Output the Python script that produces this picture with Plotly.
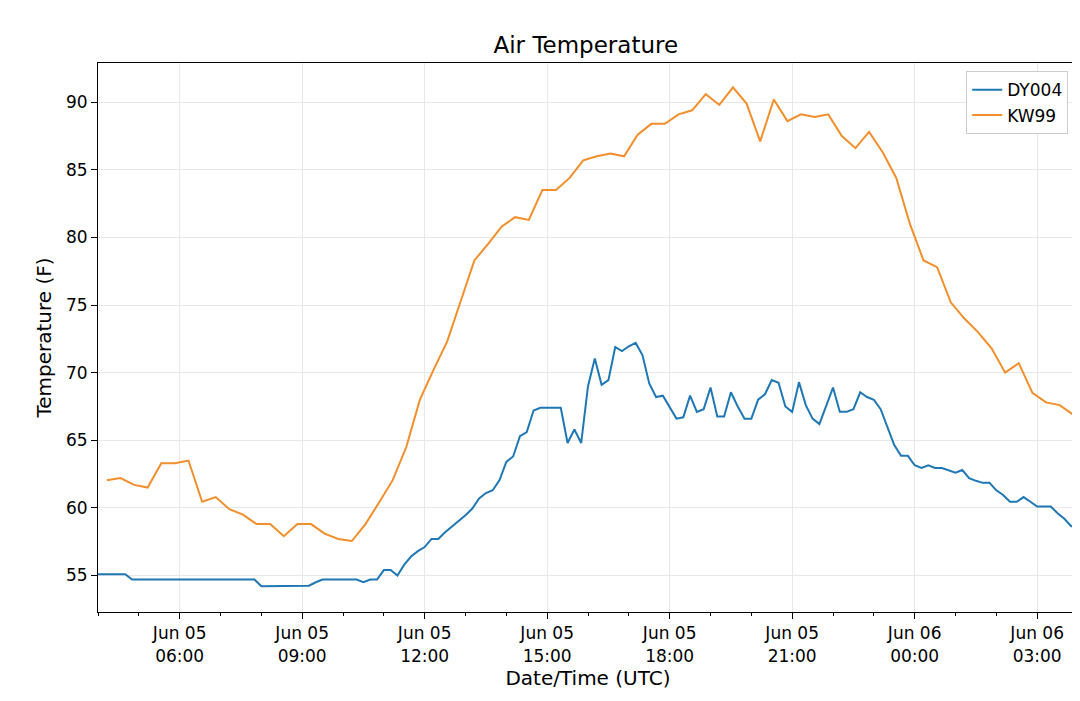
import plotly.graph_objects as go
import pandas as pd

dy004_start = "2020-06-05 04:00"
dy004_step = "10min"
dy004_temp = [55.1]*5 + [54.7]*19 + [54.2]*7 + [54.25, 54.5, 54.7,
    54.7, 54.7, 54.7, 54.7, 54.7, 54.5, 54.7, 54.7, 55.4, 55.4, 55.0, 55.8, 56.4, 56.8, 57.1, 57.7, 57.7,
    58.2, 58.6, 59.0, 59.45, 59.95, 60.7, 61.1, 61.3, 62.05, 63.4, 63.8, 65.3, 65.6, 67.2, 67.4, 67.4,
    67.4, 67.4, 64.8, 65.8, 64.8, 69.0, 71.05, 69.1, 69.45, 71.9, 71.6, 71.95, 72.2, 71.3, 69.2, 68.2,
    68.3, 67.5, 66.6, 66.7, 68.3, 67.1, 67.3, 68.9, 66.75, 66.75, 68.55, 67.5, 66.6, 66.6, 68.0, 68.4,
    69.45, 69.25, 67.5, 67.1, 69.3, 67.6, 66.6, 66.2, 67.55, 68.9, 67.1, 67.1, 67.3, 68.55, 68.2, 68.0,
    67.3, 65.9, 64.65, 63.85, 63.85, 63.15, 62.95, 63.15, 62.95, 62.95, 62.8, 62.6, 62.8, 62.2, 62.0,
    61.85, 61.85, 61.3, 60.95, 60.45, 60.45, 60.8, 60.45, 60.1, 60.1, 60.1, 59.6, 59.2, 58.65, 58.65]

kw99_start = "2020-06-05 04:13"
kw99_step = "20min"
kw99_temp = [62.05, 62.2, 61.7, 61.5, 63.3, 63.3, 63.5, 60.45, 60.8, 59.9, 59.5, 58.8, 58.8, 57.9, 58.8,
    58.8, 58.1, 57.7, 57.55, 58.8, 60.4, 62.05, 64.5, 68.0, 70.2, 72.3, 75.3, 78.3, 79.5, 80.8, 81.5,
    81.3, 83.5, 83.5, 84.4, 85.7, 86.0, 86.2, 86.0, 87.6, 88.4, 88.4, 89.1, 89.4, 90.6, 89.8, 91.1,
    89.9, 87.1, 90.2, 88.6, 89.1, 88.9, 89.1, 87.5, 86.6, 87.8, 86.3, 84.4, 81.0, 78.3, 77.8, 75.2,
    74.0, 73.0, 71.8, 70.0, 70.7, 68.5, 67.8, 67.6, 66.9]

tick_vals = ["2020-06-05 06:00", "2020-06-05 09:00", "2020-06-05 12:00", "2020-06-05 15:00",
             "2020-06-05 18:00", "2020-06-05 21:00", "2020-06-06 00:00", "2020-06-06 03:00"]
tick_text = ["Jun 05<br>06:00", "Jun 05<br>09:00", "Jun 05<br>12:00", "Jun 05<br>15:00",
             "Jun 05<br>18:00", "Jun 05<br>21:00", "Jun 06<br>00:00", "Jun 06<br>03:00"]

dy_t = pd.date_range(dy004_start, periods=len(dy004_temp), freq=dy004_step)
kw_t = pd.date_range(kw99_start, periods=len(kw99_temp), freq=kw99_step)

fig = go.Figure()
fig.add_trace(go.Scatter(x=dy_t, y=dy004_temp, mode="lines", name="DY004",
                         line=dict(color="#1f77b4", width=2)))
fig.add_trace(go.Scatter(x=kw_t, y=kw99_temp, mode="lines", name="KW99",
                         line=dict(color="#f28e2b", width=2)))

fig.update_layout(
    width=1080, height=701, paper_bgcolor="white", plot_bgcolor="white",
    margin=dict(l=90, r=10, t=55, b=97),
    font=dict(family="DejaVu Sans", size=17, color="black"),
    title=dict(text="Air Temperature", x=0.535, xanchor="center", y=0.947, yanchor="middle",
               font=dict(size=23)),
    legend=dict(x=0.99, y=0.985, xanchor="right", yanchor="top", bordercolor="#cccccc",
                borderwidth=1, font=dict(size=17)),
    xaxis=dict(range=[dy004_start, "2020-06-06 04:00"], tickvals=tick_vals, ticktext=tick_text,
               automargin=False,
               showgrid=True, gridcolor="#e8e8e8", showline=True, linecolor="black", mirror=True,
               ticks="outside", ticklen=6, tickcolor="black",
               minor=dict(dtick=3600000, ticks="outside", ticklen=3, tickcolor="black", showgrid=False),
               title=dict(text="Date/Time (UTC)", font=dict(size=20), standoff=6)),
    yaxis=dict(range=[52.3, 92.9], tickvals=[55, 60, 65, 70, 75, 80, 85, 90], automargin=False,
               showgrid=True, gridcolor="#e8e8e8", showline=True, linecolor="black", mirror=True,
               ticks="outside", ticklen=6, tickcolor="black", zeroline=False,
               title=dict(text="Temperature (F)", font=dict(size=20), standoff=8)),
)
fig.write_html("out.html")
